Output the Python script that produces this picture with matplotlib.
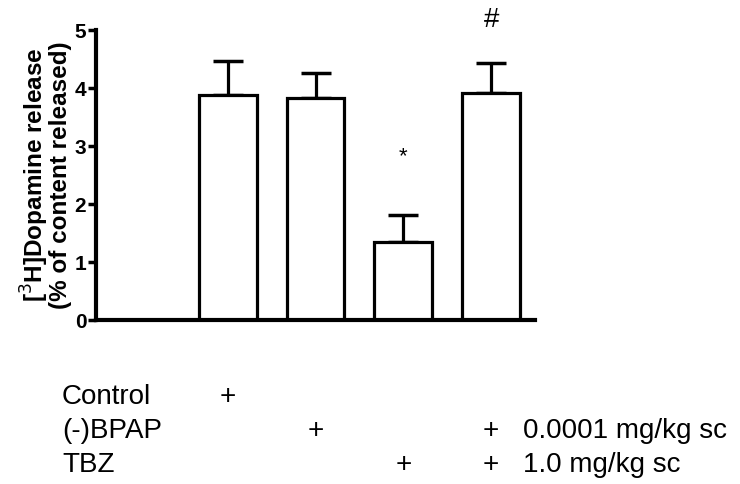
import matplotlib
matplotlib.use("Agg")
import matplotlib.pyplot as plt
import numpy as np
from matplotlib.transforms import blended_transform_factory

plt.rcParams['font.family'] = ['Liberation Sans', 'DejaVu Sans']

# Data
positions = [1, 2, 3, 4]
means = [3.88, 3.83, 1.34, 3.92]
sems = [0.59, 0.43, 0.47, 0.51]
yticks = [0, 1, 2, 3, 4, 5]
annotations = ['', '', '*', '#']
row_labels = ['Control', '(-)BPAP', 'TBZ']
row_plus = [[1], [2, 4], [3, 4]]
row_suffix = ['', '0.0001 mg/kg sc', '1.0 mg/kg sc']

fig = plt.figure(figsize=(7.4, 4.84), dpi=100)
ax = fig.add_axes([96/740, 1-320/484, (535-96)/740, (320-30)/484])

ax.bar(positions, means, width=0.66, color='white', edgecolor='black',
       linewidth=2.3, zorder=2)
ax.errorbar(positions, means, yerr=[np.zeros(len(sems)), sems], fmt='none',
            ecolor='black', elinewidth=2.3, capsize=11, capthick=2.5, zorder=1)

ax.set_xlim(-0.5, 4.5)
ax.set_ylim(0, 5)
ax.set_yticks(yticks)
ax.set_yticklabels([str(t) for t in yticks], fontsize=15, fontweight='bold')
ax.set_xticks([])
for s in ['top', 'right']:
    ax.spines[s].set_visible(False)
for s in ['left', 'bottom']:
    ax.spines[s].set_linewidth(3)
ax.tick_params(axis='y', length=6, width=2.5, pad=1)
ax.set_ylabel('[$^{3}$H]Dopamine release\n(% of content released)', fontsize=17.5,
              fontweight='bold', labelpad=2, linespacing=0.85)

ann_y = [0, 0, 2.82, 5.17]
ann_size = [14, 14, 16, 20]
for p, a, y, s in zip(positions, annotations, ann_y, ann_size):
    if a:
        ax.text(p, y, a, ha='center', va='center', fontsize=s, clip_on=False)

trans = blended_transform_factory(ax.transData, fig.transFigure)
row_y = [1-397/484, 1-431/484, 1-465/484]
for lab, plus, suf, y in zip(row_labels, row_plus, row_suffix, row_y):
    fig.text(62/740, y, lab, ha='left', va='center', fontsize=20)
    for p in plus:
        ax.text(p, y, '+', ha='center', va='center', fontsize=20,
                transform=trans, clip_on=False)
    if suf:
        fig.text(523/740, y, suf, ha='left', va='center', fontsize=20)

fig.savefig('out.png', dpi=100)
